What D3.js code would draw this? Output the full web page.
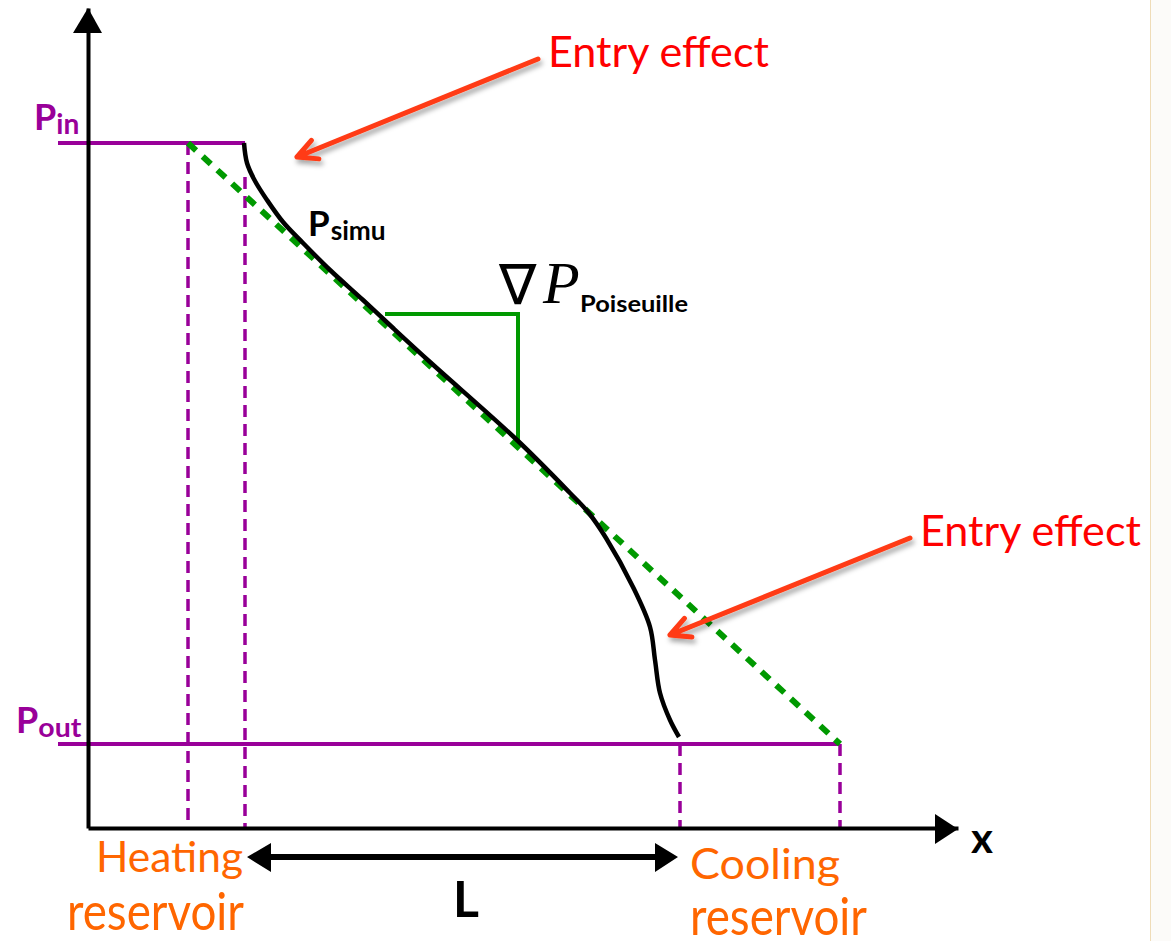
<!DOCTYPE html>
<html lang="en">
<head>
    <meta charset="UTF-8">
    <script src="https://d3js.org/d3.v7.min.js"></script>
    <title>Entry effect</title>
    <style>
        body { margin: 0; background: #fff; }
    </style>
</head>
<body>
    <div id="chart"></div>
    <script>
        // positions along the channel (x) and pressure levels (P), in plot units
        var reservoirX = [10, 15.7, 59.2, 75.2];       // heating edge, inlet, outlet, cooling edge
        var pressureLevels = [68.5, 8.4];              // P_in, P_out
        var pressureNames = ['in', 'out'];

        // simulated pressure profile
        var simuX = [15.6, 15.9, 16.7, 17.9, 19.5, 21.5, 24.2, 27.5, 30.5, 34.2, 42.9, 48.2, 50.0, 51.8, 54.5, 56.2, 56.7, 57.2, 58.2, 59.1];
        var simuP = [68.5, 66.5, 64.7, 62.8, 60.6, 58.5, 55.8, 52.8, 50.0, 46.6, 38.8, 33.5, 31.6, 29.0, 24.1, 20.1, 16.8, 13.5, 10.8, 9.1];

        // Poiseuille straight line and slope triangle
        var poiseuilleX = [10, 75.2];
        var poiseuilleP = [68.5, 8.4];
        var triangleX = [29.7, 43, 43];
        var triangleP = [51.4, 51.4, 38.8];

        // "Entry effect" arrows: [startX, startP, tipX, tipP]
        var entryArrows = [[45, 76.9, 20.9, 67.1], [82.2, 29, 58.2, 19.3]];

        var width = 1171;
        var height = 941;
        var purple = '#990099';
        var green = '#009900';
        var orange = '#ff6600';
        var sans = 'Lato, "Open Sans", sans-serif';

        var x = d3.scaleLinear().domain([0, 87]).range([88, 958]);
        var y = d3.scaleLinear().domain([0, 82]).range([828, 8]);

        var svg = d3.select('#chart').append('svg')
            .attr('width', width)
            .attr('height', height)
            .style('font-family', sans);

        var defs = svg.append('defs');
        defs.append('filter').attr('id', 'shadow')
            .attr('x', '-20%').attr('y', '-20%').attr('width', '140%').attr('height', '160%')
            .append('feDropShadow')
                .attr('dx', 2).attr('dy', 4).attr('stdDeviation', 2.5)
                .attr('flood-color', '#000').attr('flood-opacity', 0.35);
        defs.append('clipPath').attr('id', 'slide')
            .append('rect').attr('x', 0).attr('y', 0).attr('width', 1150).attr('height', height);

        // page strip on the right
        svg.append('rect').attr('x', 1150).attr('y', 0).attr('width', 21).attr('height', height)
            .attr('fill', '#fcfbf9');
        svg.append('line').attr('x1', 1150.5).attr('x2', 1150.5).attr('y1', 0).attr('y2', height)
            .attr('stroke', '#efdcb8').attr('stroke-width', 1);

        var g = svg.append('g').attr('clip-path', 'url(#slide)');

        // dashed reservoir / channel limits
        var dashTop = [pressureLevels[0], 65.1, pressureLevels[1], pressureLevels[1]];
        g.selectAll('.limit')
            .data(reservoirX)
            .enter()
            .append('line')
                .attr('class', 'limit')
                .attr('x1', function(d) { return x(d); })
                .attr('x2', function(d) { return x(d); })
                .attr('y1', function(d, i) { return y(dashTop[i]); })
                .attr('y2', y(0))
                .attr('stroke', purple)
                .attr('stroke-width', 3.5)
                .attr('stroke-dasharray', '12,7');

        // pressure levels
        var levelEnd = [reservoirX[1], reservoirX[3]];
        g.selectAll('.level')
            .data(pressureLevels)
            .enter()
            .append('line')
                .attr('x1', x(-3))
                .attr('x2', function(d, i) { return x(levelEnd[i]); })
                .attr('y1', function(d) { return y(d); })
                .attr('y2', function(d) { return y(d); })
                .attr('stroke', purple)
                .attr('stroke-width', 4);

        g.selectAll('.plabel')
            .data(pressureLevels)
            .enter()
            .append('text')
                .attr('x', function(d, i) { return i === 0 ? 34 : 16; })
                .attr('y', function(d, i) { return y(d) - (i === 0 ? 13 : 11); })
                .attr('fill', purple)
                .attr('font-weight', 'bold')
                .attr('font-size', 36)
                .each(function(d, i) {
                    var t = d3.select(this);
                    t.append('tspan').text('P');
                    t.append('tspan')
                        .attr('font-size', i === 0 ? 28 : 26)
                        .attr('dy', 4)
                        .attr('textLength', i === 0 ? 23 : 43)
                        .attr('lengthAdjust', 'spacingAndGlyphs')
                        .text(pressureNames[i]);
                });

        // axes
        var xAxis = d3.axisBottom(x).tickValues([]).tickSizeOuter(0);
        var yAxis = d3.axisLeft(y).tickValues([]).tickSizeOuter(0);
        g.append('g').attr('transform', 'translate(0,' + y(0) + ')').call(xAxis)
            .select('.domain').attr('stroke', '#000').attr('stroke-width', 4);
        g.append('g').attr('transform', 'translate(' + x(0) + ',0)').call(yAxis)
            .select('.domain').attr('stroke', '#000').attr('stroke-width', 4);

        g.append('path')
            .attr('d', 'M' + x(87) + ',' + (y(0) + 1) + 'L' + (x(87) - 23) + ',' + (y(0) - 14) + 'L' + (x(87) - 23) + ',' + (y(0) + 16) + 'Z')
            .attr('fill', '#000');
        g.append('path')
            .attr('d', 'M' + x(0) + ',' + y(82) + 'L' + (x(0) - 15) + ',' + (y(82) + 25) + 'L' + (x(0) + 14) + ',' + (y(82) + 25) + 'Z')
            .attr('fill', '#000');

        g.append('text')
            .attr('x', 982).attr('y', 853)
            .attr('text-anchor', 'middle')
            .attr('font-weight', 'bold').attr('font-size', 42)
            .text('x');

        // Poiseuille line
        g.append('path')
            .datum(d3.zip(poiseuilleX, poiseuilleP))
            .attr('d', d3.line().x(function(d) { return x(d[0]); }).y(function(d) { return y(d[1]); }))
            .attr('fill', 'none')
            .attr('stroke', green)
            .attr('stroke-width', 6)
            .attr('stroke-dasharray', '11,9');

        // slope triangle
        g.append('path')
            .datum(d3.zip(triangleX, triangleP))
            .attr('d', d3.line().x(function(d) { return x(d[0]); }).y(function(d) { return y(d[1]); }))
            .attr('fill', 'none')
            .attr('stroke', green)
            .attr('stroke-width', 4);

        // simulated profile
        g.append('path')
            .datum(d3.zip(simuX, simuP))
            .attr('d', d3.line()
                .x(function(d) { return x(d[0]); })
                .y(function(d) { return y(d[1]); })
                .curve(d3.curveCatmullRom.alpha(0.5)))
            .attr('fill', 'none')
            .attr('stroke', '#000')
            .attr('stroke-width', 4.5);

        g.append('text')
            .attr('x', 308).attr('y', 236)
            .attr('font-weight', 'bold').attr('font-size', 35)
            .each(function() {
                var t = d3.select(this);
                t.append('tspan').text('P');
                t.append('tspan').attr('font-size', 26).attr('dy', 4).attr('dx', 1)
                    .attr('textLength', 55).attr('lengthAdjust', 'spacingAndGlyphs')
                    .text('simu');
            });

        // grad P label
        g.append('text')
            .attr('x', 499).attr('y', 304)
            .style('font-family', '"DejaVu Sans", sans-serif')
            .attr('font-size', 56)
            .text('\u2207');
        g.append('text')
            .attr('x', 543).attr('y', 303)
            .style('font-family', '"Liberation Serif", serif')
            .attr('font-style', 'italic')
            .attr('font-size', 60)
            .text('P');
        g.append('text')
            .attr('x', 580).attr('y', 312)
            .attr('font-weight', 'bold').attr('font-size', 23)
            .attr('textLength', 108).attr('lengthAdjust', 'spacingAndGlyphs')
            .text('Poiseuille');

        // entry effect arrows
        var armLen = 22, armAngle = 27 * Math.PI / 180;
        g.selectAll('.entry')
            .data(entryArrows)
            .enter()
            .append('path')
                .attr('class', 'entry')
                .attr('d', function(d) {
                    var sx = x(d[0]), sy = y(d[1]), tx = x(d[2]), ty = y(d[3]);
                    var a = Math.atan2(sy - ty, sx - tx);
                    var a1 = a - armAngle, a2 = a + armAngle;
                    return 'M' + sx + ',' + sy + 'L' + tx + ',' + ty +
                        'M' + (tx + armLen * Math.cos(a1)) + ',' + (ty + armLen * Math.sin(a1)) +
                        'L' + tx + ',' + ty +
                        'L' + (tx + armLen * Math.cos(a2)) + ',' + (ty + armLen * Math.sin(a2));
                })
                .attr('fill', 'none')
                .attr('stroke', '#ff3b14')
                .attr('stroke-width', 5)
                .attr('stroke-linecap', 'round')
                .attr('stroke-linejoin', 'round')
                .attr('filter', 'url(#shadow)');

        g.selectAll('.entryLabel')
            .data(entryArrows)
            .enter()
            .append('text')
                .attr('x', function(d) { return x(d[0]) + 10; })
                .attr('y', function(d) { return y(d[1]) + 8; })
                .attr('fill', '#ff0000')
                .attr('font-size', 42)
                .attr('textLength', 221).attr('lengthAdjust', 'spacingAndGlyphs')
                .text('Entry effect');

        // channel length L
        var ly = y(-2.9);
        g.append('line')
            .attr('x1', x(reservoirX[1]) + 15).attr('x2', x(reservoirX[2]) - 15)
            .attr('y1', ly).attr('y2', ly)
            .attr('stroke', '#000').attr('stroke-width', 6);
        g.append('path')
            .attr('d', 'M' + (x(reservoirX[1]) + 2) + ',' + ly + 'L' + (x(reservoirX[1]) + 26) + ',' + (ly - 14) + 'L' + (x(reservoirX[1]) + 26) + ',' + (ly + 15) + 'Z' +
                'M' + (x(reservoirX[2]) - 2) + ',' + ly + 'L' + (x(reservoirX[2]) - 25) + ',' + (ly - 14) + 'L' + (x(reservoirX[2]) - 25) + ',' + (ly + 15) + 'Z')
            .attr('fill', '#000');
        g.append('text')
            .attr('x', 466).attr('y', 917)
            .attr('text-anchor', 'middle')
            .attr('font-weight', 'bold').attr('font-size', 50)
            .text('L');

        // reservoir labels
        var reservoirLabels = [['Heating', 96, 872, 147, 67, 930], ['Cooling', 690, 879, 150, 690, 935]];
        reservoirLabels.forEach(function(r) {
            g.append('text')
                .attr('x', r[1]).attr('y', r[2])
                .attr('fill', orange).attr('font-size', 43)
                .attr('textLength', r[3]).attr('lengthAdjust', 'spacingAndGlyphs')
                .text(r[0]);
            g.append('text')
                .attr('transform', 'translate(' + r[4] + ',' + r[5] + ') scale(1,1.22)')
                .attr('fill', orange).attr('font-size', 43)
                .attr('textLength', 177).attr('lengthAdjust', 'spacingAndGlyphs')
                .text('reservoir');
        });
    </script>
</body>
</html>
